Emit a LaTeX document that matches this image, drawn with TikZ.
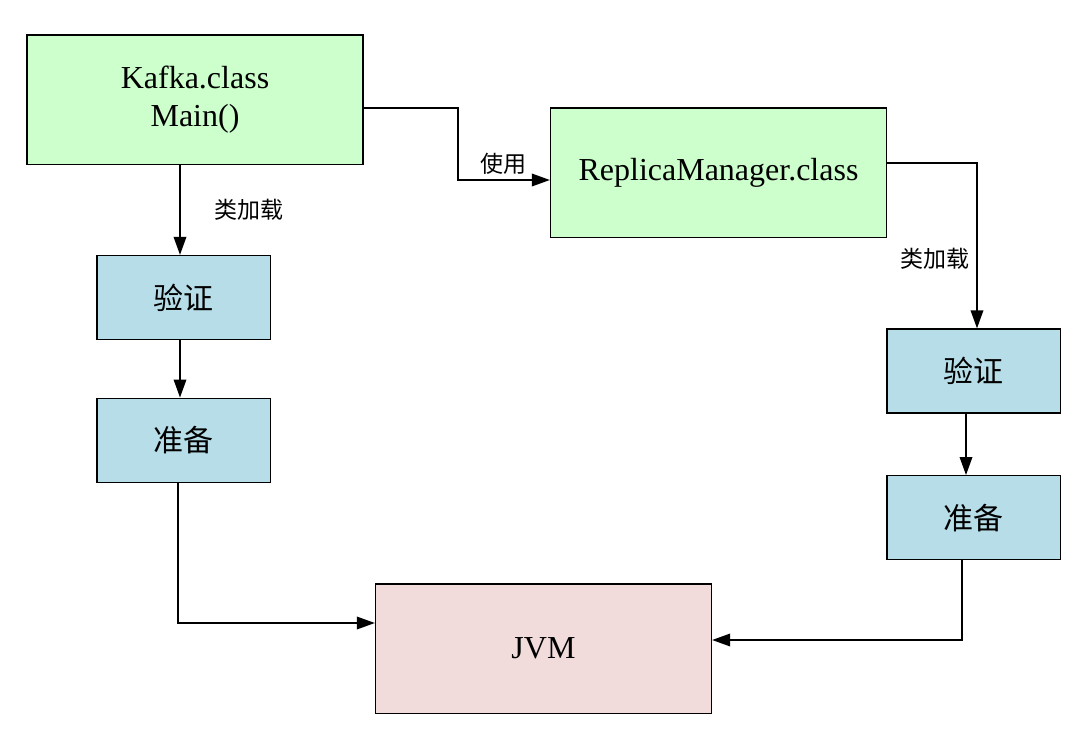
\documentclass[tikz,border=0pt]{standalone}
\usepackage{fontspec}
\setmainfont{Liberation Serif}
\newfontfamily\cjk{Noto Sans CJK SC}
\usetikzlibrary{arrows.meta,positioning}
\definecolor{classgreen}{RGB}{204,255,204}
\definecolor{phaseblue}{RGB}{183,222,232}
\definecolor{vmpink}{RGB}{242,220,219}

\begin{document}
\begin{tikzpicture}[x=0.75pt,y=-0.75pt,>={Triangle[length=13.5pt,width=9.5pt]},line width=1pt,
    class/.style={draw,fill=classgreen,minimum width=252pt,minimum height=97pt,align=center,font=\fontsize{24}{28.5}\selectfont},
    phase/.style={draw,fill=phaseblue,minimum width=130pt,minimum height=63pt,font=\cjk\fontsize{22.5}{26}\selectfont},
    vm/.style={draw,fill=vmpink,minimum width=252pt,minimum height=97pt,font=\fontsize{24}{28}\selectfont},
    lbl/.style={font=\cjk\fontsize{17.25}{20}\selectfont}]
    \useasboundingbox (0,0) rectangle (1074,732);

    \node[class] (kafka)   at (195,99.5)   {Kafka.class\\Main()};
    \node[class] (replica) at (718.5,172.5) {ReplicaManager.class};
    \node[phase] (yz1) at (183.5,297.5) {验证};
    \node[phase] (zb1) [below=43pt of yz1] {准备};
    \node[phase] (yz2) at (973.5,371) {验证};
    \node[phase] (zb2) [below=46pt of yz2] {准备};
    \node[vm]    (jvm) at (543.5,648.5) {JVM};

    \draw[->] (kafka.east |- 0,108) -- (458,108) |- (replica.west |- 0,180)
        node[lbl,pos=0.75,above] (use) {使用};
    \draw[->] (kafka.south -| 180,0) -- (yz1.north -| 180,0)
        node[lbl,midway,right=22pt] (load1) {类加载};
    \draw[->] (replica.east |- 0,163) -| (yz2.north -| 977,0)
        node[lbl,pos=0.79,left=2pt] (load2) {类加载};
    \draw[->] (yz1.south -| 180,0) -- (zb1.north -| 180,0);
    \draw[->] (yz2.south -| 966,0) -- (zb2.north -| 966,0);
    \draw[->] (zb1.south -| 178,0) |- (jvm.west |- 0,623);
    \draw[->] (zb2.south -| 962,0) |- (jvm.east |- 0,640);
\end{tikzpicture}
\end{document}
